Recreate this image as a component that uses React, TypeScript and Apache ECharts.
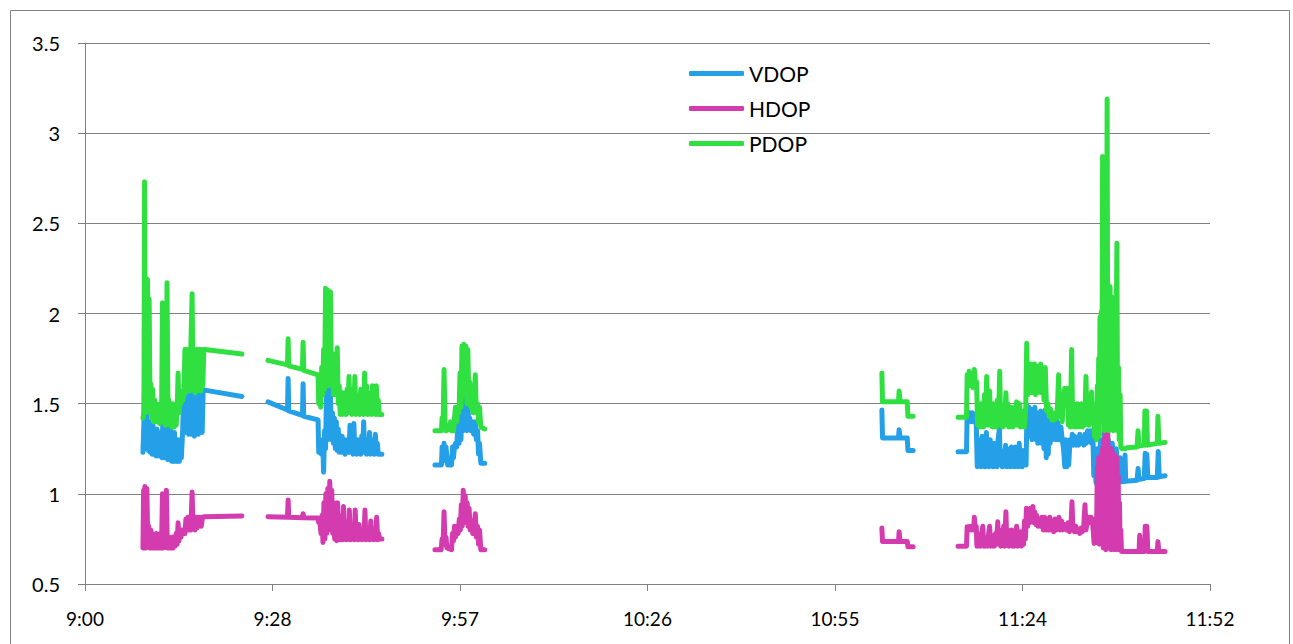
import React, { useEffect, useRef } from "react";
import * as echarts from "echarts";

// x = minutes after 9:00, y = DOP value
const xTickMinutes = 28.8; // 0.02 day
const xMaxMinutes = 172.8;

// ---------- VDOP ----------
const vdop1: number[][] = [
  [8.9,1.23],[9.05,1.40],[9.15,1.62],[9.3,1.25],[9.45,1.45],[9.6,1.38],[9.75,1.24],[9.85,1.40],[10.0,1.23],[10.15,1.35],[10.3,1.22],[10.45,1.38],[10.6,1.22],[10.75,1.32],[10.9,1.21],[11.05,1.36],[11.2,1.21],[11.35,1.30],[11.5,1.21],[11.65,1.34],[11.8,1.20],[11.95,1.40],[12.1,1.20],[12.25,1.30],[12.4,1.20],[12.55,1.38],[12.7,1.19],[12.85,1.32],[13.0,1.19],[13.15,1.36],[13.3,1.18],[13.45,1.30],[13.6,1.18],[13.75,1.34],[13.9,1.18],[14.05,1.25],[14.2,1.18],[14.35,1.30],[14.5,1.18],[14.65,1.28],[14.8,1.20],[15.0,1.35],[15.15,1.55],[15.3,1.34],[15.45,1.57],[15.6,1.34],[15.75,1.56],[15.9,1.33],[16.05,1.57],[16.2,1.33],[16.35,1.57],[16.5,1.33],[16.65,1.57],[16.8,1.32],[16.95,1.57],[17.1,1.33],[17.25,1.58],[17.4,1.33],[17.55,1.57],[17.7,1.34],[17.85,1.575],[18.0,1.34],[18.15,1.575],[18.4,1.575],[24.1,1.54]
];
const vdop2: number[][] = [
  [28.1,1.51],[31.1,1.465],[31.2,1.64],[31.3,1.46],[33.4,1.435],[33.5,1.61],[33.6,1.43],[35.8,1.41],[35.9,1.23],[36.1,1.27],[36.3,1.22],[36.5,1.30],[36.65,1.12],[36.8,1.35],[36.95,1.25],[37.1,1.58],[37.25,1.30],[37.4,1.60],[37.55,1.35],[37.7,1.55],[37.85,1.30],[38.0,1.45],[38.15,1.28],[38.3,1.42],[38.45,1.25],[38.6,1.40],[38.75,1.24],[38.9,1.36],[39.05,1.23],
  [39.2,1.30],[39.35,1.23],[39.5,1.32],[39.65,1.23],[39.8,1.28],[39.95,1.22],[40.1,1.30],[40.25,1.23],[40.4,1.27],[40.55,1.23],[40.7,1.38],[40.85,1.23],[41.0,1.30],[41.15,1.22],[41.3,1.39],[41.45,1.23],[41.6,1.28],[41.75,1.22],[41.9,1.30],[42.05,1.23],[42.2,1.27],[42.35,1.22],[42.5,1.32],[42.65,1.23],[42.8,1.40],[42.95,1.23],[43.1,1.30],[43.25,1.22],[43.4,1.28],[43.55,1.23],[43.7,1.34],[43.85,1.22],[44.0,1.30],[44.15,1.23],[44.3,1.27],[44.45,1.22],[44.6,1.33],[44.75,1.23],[44.9,1.28],[45.05,1.22],[45.6,1.22]
];
const vdop3: number[][] = [
  [53.75,1.16],[54.75,1.16],[54.85,1.26],[55.0,1.18],[55.15,1.28],[55.3,1.20],[55.45,1.26],[55.7,1.16],[56.3,1.16],[56.45,1.26],[56.6,1.20],[56.75,1.26],[56.9,1.28],[57.1,1.26],[57.3,1.40],[57.45,1.28],[57.6,1.45],[57.75,1.30],[57.9,1.52],[58.05,1.35],[58.2,1.55],[58.35,1.40],[58.5,1.52],[58.65,1.35],[58.8,1.50],[58.95,1.38],[59.1,1.42],[59.3,1.35],[59.5,1.40],[59.7,1.33],[59.95,1.40],[60.1,1.30],[60.3,1.35],[60.45,1.22],[60.6,1.28],[60.8,1.17],[61.4,1.17]
];
const vdop4: number[][] = [
  [122.4,1.465],[122.5,1.31],[124.95,1.31],[125.05,1.355],[125.2,1.31],[126.3,1.31],[126.4,1.24],[127.2,1.24]
];
const vdop5: number[][] = [
  [134.1,1.234],[135.4,1.234],[135.5,1.455],[135.7,1.40],[135.9,1.45],[136.1,1.40],[136.3,1.45],[136.5,1.40],[136.7,1.44],[136.9,1.38],
  [137.05,1.15],[137.2,1.30],[137.35,1.16],[137.5,1.25],[137.65,1.15],[137.8,1.32],[137.95,1.16],[138.1,1.22],[138.25,1.15],[138.45,1.34],[138.6,1.16],[138.75,1.25],[138.9,1.15],[139.05,1.30],[139.2,1.16],[139.35,1.22],[139.5,1.15],[139.65,1.28],[139.8,1.16],[139.95,1.20],[140.1,1.15],[140.25,1.30],[140.45,1.36],[140.6,1.16],[140.75,1.24],[140.9,1.15],[141.05,1.22],[141.2,1.16],[141.4,1.27],[141.55,1.15],[141.7,1.25],[141.85,1.16],[142.0,1.22],[142.15,1.15],[142.3,1.26],[142.45,1.16],[142.6,1.20],[142.75,1.15],[142.9,1.26],[143.05,1.16],[143.2,1.22],[143.35,1.15],[143.5,1.28],[143.65,1.16],[143.8,1.20],[143.95,1.15],[144.1,1.24],[144.25,1.16],[144.4,1.20],[144.55,1.16],[144.7,1.49],
  [144.85,1.40],[145.0,1.48],[145.15,1.32],[145.3,1.47],[145.45,1.30],[145.6,1.46],[145.75,1.35],[145.9,1.48],[146.05,1.30],[146.2,1.42],[146.35,1.28],[146.5,1.45],[146.65,1.30],[146.8,1.46],[146.95,1.28],[147.1,1.40],[147.3,1.25],[147.5,1.465],[147.65,1.20],[147.8,1.45],[147.95,1.22],[148.1,1.40],[148.25,1.28],[148.4,1.43],[148.55,1.30],[148.7,1.42],[148.85,1.32],[149.0,1.43],[149.15,1.30],[149.35,1.40],[149.55,1.37],[149.7,1.30],[149.9,1.37],[150.1,1.30],
  [150.3,1.25],[150.5,1.15],[150.65,1.30],[150.8,1.15],[150.95,1.28],[151.1,1.16],[151.3,1.30],[151.5,1.27],[151.65,1.33],[151.8,1.27],[152.0,1.32],[152.2,1.27],[152.4,1.30],[152.6,1.27],[152.8,1.33],[153.0,1.28],[153.2,1.31],[153.4,1.27],[153.6,1.33],[153.8,1.28],[154.0,1.35],[154.2,1.29],[154.4,1.35],[154.6,1.28],[154.8,1.35],[154.95,1.10],[155.1,1.20],[155.3,1.06],
  [155.5,1.25],[155.7,1.10],[156.0,1.30],[156.3,1.15],[156.6,1.35],[156.9,1.10],[157.2,1.30],[157.5,1.10],[157.8,1.28],[158.1,1.08],[158.4,1.25],[158.7,1.07],[159.0,1.20],[159.15,1.067],
  [159.65,1.068],[159.75,1.215],[159.85,1.07],[161.6,1.075],[161.75,1.14],[161.9,1.08],[162.7,1.085],[162.85,1.225],[163.0,1.09],[163.1,1.22],[163.25,1.09],[164.7,1.09],[164.85,1.235],[165.0,1.095],[165.9,1.10]
];

// ---------- HDOP ----------
const hdop1: number[][] = [
  [8.9,0.70],[9.0,1.02],[9.1,0.70],[9.2,1.04],[9.35,0.70],[9.5,1.03],[9.65,0.72],[9.8,0.82],[9.95,0.70],[10.1,0.80],[10.25,0.70],[10.4,0.78],[10.55,0.70],[10.7,0.76],[10.85,0.70],[11.0,0.78],[11.15,0.70],[11.3,0.77],[11.45,0.70],[11.6,0.78],[11.75,0.70],[11.9,1.00],[12.05,0.70],[12.2,0.80],[12.35,0.71],[12.5,1.02],[12.65,0.70],[12.8,0.76],[12.95,0.70],[13.1,0.75],[13.25,0.70],[13.4,0.76],[13.55,0.70],[13.7,0.74],[13.85,0.71],[14.0,0.78],[14.15,0.72],[14.3,0.84],[14.45,0.74],[14.6,0.80],[14.75,0.76],[14.9,0.80],[15.05,0.78],[15.2,0.80],[15.35,0.78],[15.5,0.86],[15.65,0.80],[15.8,0.87],[15.95,0.80],[16.1,0.86],[16.25,0.80],[16.45,1.01],[16.6,0.82],[16.75,0.87],[16.9,0.80],[17.05,0.87],[17.2,0.81],[17.35,0.87],[17.5,0.82],[17.65,0.87],[17.85,0.82],[18.05,0.87],[18.25,0.873],[24.1,0.877]
];
const hdop2: number[][] = [
  [28.1,0.873],[31.1,0.87],[31.2,0.966],[31.3,0.87],[33.4,0.868],[33.5,0.89],[33.6,0.867],[35.8,0.866],[35.9,0.84],[36.1,0.84],[36.25,0.78],[36.4,0.88],[36.55,0.73],[36.7,0.95],[36.85,0.75],[37.0,1.00],[37.15,0.78],[37.3,1.03],[37.45,0.80],[37.6,1.07],[37.75,0.82],[37.9,1.02],[38.05,0.78],[38.2,0.95],[38.35,0.75],[38.5,0.90],[38.65,0.74],[38.8,0.95],[38.95,0.75],[39.1,0.88],[39.25,0.745],
  [39.4,0.82],[39.55,0.745],[39.7,0.93],[39.85,0.75],[40.0,0.85],[40.15,0.745],[40.3,0.80],[40.45,0.75],[40.6,0.91],[40.75,0.745],[40.9,0.82],[41.05,0.75],[41.2,0.78],[41.35,0.745],[41.5,0.91],[41.65,0.75],[41.8,0.80],[41.95,0.745],[42.1,0.83],[42.25,0.75],[42.4,0.78],[42.55,0.745],[42.7,0.80],[42.85,0.75],[43.0,0.91],[43.15,0.745],[43.3,0.80],[43.45,0.75],[43.6,0.78],[43.75,0.745],[43.9,0.85],[44.05,0.75],[44.2,0.80],[44.35,0.745],[44.5,0.78],[44.65,0.75],[44.8,0.87],[44.95,0.745],[45.1,0.78],[45.25,0.75],[45.6,0.75]
];
const hdop3: number[][] = [
  [53.75,0.69],[54.7,0.69],[54.85,0.75],[55.0,0.72],[55.15,0.90],[55.3,0.72],[55.45,0.76],[55.6,0.70],[56.3,0.69],[56.45,0.78],[56.6,0.74],[56.75,0.82],[56.9,0.76],[57.1,0.82],[57.3,0.78],[57.5,0.86],[57.65,0.80],[57.8,0.94],[57.95,0.82],[58.1,1.02],[58.25,0.85],[58.4,0.99],[58.55,0.84],[58.7,0.95],[58.85,0.82],[59.0,0.92],[59.15,0.80],[59.35,0.85],[59.55,0.78],[59.75,0.82],[59.95,0.89],[60.1,0.76],[60.3,0.82],[60.45,0.72],[60.6,0.80],[60.8,0.69],[61.4,0.69]
];
const hdop4: number[][] = [
  [122.4,0.81],[122.5,0.735],[124.95,0.735],[125.05,0.79],[125.2,0.735],[126.3,0.735],[126.4,0.707],[127.2,0.707]
];
const hdop5: number[][] = [
  [134.1,0.71],[135.4,0.71],[135.5,0.818],[135.7,0.80],[135.9,0.82],[136.1,0.80],[136.3,0.82],[136.5,0.80],[136.6,0.87],[136.75,0.80],[136.9,0.82],[137.0,0.71],
  [137.15,0.78],[137.3,0.71],[137.45,0.76],[137.6,0.71],[137.75,0.78],[137.9,0.82],[138.05,0.71],[138.2,0.76],[138.35,0.71],[138.5,0.75],[138.65,0.71],[138.8,0.78],[138.95,0.82],[139.1,0.71],[139.25,0.77],[139.4,0.71],[139.55,0.76],[139.7,0.71],[139.85,0.78],[140.0,0.72],[140.2,0.845],[140.35,0.72],[140.5,0.80],[140.65,0.71],[140.8,0.78],[140.95,0.72],[141.1,0.82],[141.25,0.71],[141.45,0.90],[141.6,0.72],[141.75,0.80],[141.9,0.71],[142.05,0.78],[142.2,0.72],[142.35,0.80],[142.5,0.71],[142.65,0.76],[142.8,0.71],[142.95,0.78],[143.1,0.82],[143.25,0.71],[143.4,0.77],[143.55,0.72],[143.7,0.79],[143.85,0.71],[144.0,0.78],[144.15,0.72],[144.3,0.85],[144.45,0.75],[144.6,0.92],
  [144.8,0.82],[144.95,0.90],[145.1,0.84],[145.25,0.92],[145.4,0.85],[145.6,0.93],[145.75,0.84],[145.9,0.90],[146.05,0.83],[146.2,0.88],[146.4,0.82],[146.6,0.86],[146.8,0.82],[147.0,0.87],[147.2,0.80],[147.4,0.87],[147.6,0.80],[147.8,0.86],[148.0,0.80],[148.2,0.87],[148.4,0.80],[148.6,0.85],[148.8,0.79],[149.0,0.86],[149.2,0.80],[149.4,0.85],[149.6,0.87],[149.8,0.80],[150.0,0.85],
  [150.2,0.80],[150.5,0.83],[150.8,0.80],[151.0,0.84],[151.2,0.79],[151.45,0.82],[151.6,0.956],[151.75,0.80],[152.0,0.79],[152.2,0.82],[152.4,0.79],[152.6,0.80],[152.8,0.78],[153.0,0.81],[153.2,0.79],[153.4,0.82],[153.6,0.94],[153.75,0.80],[153.95,0.85],[154.1,0.87],[154.3,0.84],[154.5,0.87],[154.7,0.86],[154.85,0.80],[155.0,0.725],[155.2,0.75],[155.35,0.73],
  [155.5,1.15],[155.6,0.73],[155.7,1.20],[155.8,0.72],[155.9,1.18],[156.0,0.73],[156.1,1.22],[156.2,0.72],[156.3,1.25],[156.4,0.70],[156.5,1.30],[156.6,0.70],[156.7,1.37],[156.8,0.69],[156.9,1.39],[157.0,0.70],[157.1,1.35],[157.2,0.70],[157.3,1.25],[157.4,0.70],[157.5,1.22],[157.6,0.69],[157.7,1.25],[157.8,0.70],[157.9,1.20],[158.0,0.69],[158.1,1.22],[158.2,0.70],[158.3,1.18],[158.4,0.69],[158.5,1.20],[158.6,0.70],[158.7,1.10],[158.8,0.69],[158.9,0.95],[159.0,0.69],[159.1,0.80],[159.2,0.68],
  [159.4,0.68],[161.9,0.68],[162.0,0.77],[162.1,0.68],[162.75,0.68],[162.85,0.82],[163.0,0.70],[163.1,0.82],[163.25,0.68],[164.7,0.68],[164.8,0.735],[164.95,0.68],[165.9,0.68]
];

// ---------- PDOP ----------
const pdop1: number[][] = [
  [8.9,1.42],[9.05,1.45],[9.15,2.73],[9.3,1.45],[9.45,1.62],[9.6,2.19],[9.75,1.50],[9.85,2.08],[10.0,1.45],[10.1,1.61],[10.25,1.42],[10.4,1.58],[10.55,1.40],[10.7,1.52],[10.85,1.40],[11.0,1.50],[11.15,1.40],[11.3,1.46],[11.45,1.39],[11.6,1.50],[11.75,1.40],[11.9,2.06],[12.05,1.40],[12.2,1.45],[12.35,1.38],[12.5,1.55],[12.6,2.17],[12.75,1.40],[12.9,1.52],[13.05,1.38],[13.2,1.48],[13.35,1.37],[13.5,1.50],[13.65,1.37],[13.8,1.42],[14.0,1.38],[14.15,1.45],[14.3,1.67],[14.45,1.45],[14.6,1.56],[14.75,1.50],[14.9,1.57],[15.05,1.52],[15.2,1.57],[15.35,1.80],[15.5,1.56],[15.65,1.80],[15.8,1.58],[15.95,1.80],[16.1,1.57],[16.25,1.80],[16.45,2.11],[16.6,1.58],[16.75,1.80],[16.9,1.56],[17.05,1.80],[17.2,1.57],[17.35,1.80],[17.5,1.58],[17.65,1.80],[17.8,1.57],[17.95,1.80],[18.1,1.60],[18.25,1.80],[18.4,1.80],[24.1,1.775]
];
const pdop2: number[][] = [
  [28.1,1.74],[31.1,1.715],[31.2,1.86],[31.3,1.71],[33.4,1.69],[33.5,1.84],[33.6,1.685],[35.8,1.66],[35.9,1.50],[36.05,1.62],[36.2,1.48],[36.35,1.70],[36.5,1.55],[36.65,1.80],[36.8,1.58],[36.95,2.14],[37.1,1.62],[37.25,2.13],[37.4,1.60],[37.55,1.80],[37.7,2.12],[37.85,1.62],[38.0,1.78],[38.15,1.55],[38.3,1.75],[38.45,1.55],[38.6,1.62],[38.75,1.81],[38.9,1.50],[39.05,1.60],[39.2,1.44],
  [39.35,1.55],[39.5,1.44],[39.65,1.56],[39.8,1.45],[39.95,1.52],[40.1,1.44],[40.25,1.58],[40.4,1.45],[40.55,1.65],[40.7,1.46],[40.85,1.58],[41.0,1.44],[41.15,1.56],[41.3,1.45],[41.45,1.65],[41.6,1.44],[41.75,1.55],[41.9,1.45],[42.05,1.52],[42.2,1.44],[42.35,1.58],[42.5,1.45],[42.65,1.55],[42.8,1.44],[42.95,1.67],[43.1,1.45],[43.25,1.60],[43.4,1.44],[43.55,1.52],[43.7,1.45],[43.85,1.56],[44.0,1.44],[44.15,1.60],[44.3,1.45],[44.45,1.55],[44.6,1.44],[44.75,1.60],[44.9,1.44],[45.05,1.52],[45.2,1.44],[45.6,1.44]
];
const pdop3: number[][] = [
  [53.75,1.35],[54.75,1.35],[54.85,1.42],[55.0,1.38],[55.15,1.69],[55.3,1.40],[55.45,1.35],[56.0,1.36],[56.15,1.40],[56.3,1.35],[56.6,1.35],[56.75,1.42],[56.9,1.48],[57.1,1.40],[57.25,1.48],[57.45,1.45],[57.6,1.67],[57.75,1.48],[57.9,1.82],[58.05,1.55],[58.2,1.83],[58.35,1.55],[58.5,1.82],[58.65,1.50],[58.8,1.80],[58.95,1.55],[59.1,1.62],[59.25,1.48],[59.45,1.50],[59.6,1.45],[59.75,1.50],[59.95,1.66],[60.1,1.45],[60.3,1.50],[60.45,1.40],[60.6,1.48],[60.8,1.37],[61.4,1.36]
];
const pdop4: number[][] = [
  [122.4,1.67],[122.5,1.51],[124.95,1.51],[125.05,1.57],[125.2,1.51],[126.3,1.51],[126.4,1.43],[127.2,1.43]
];
const pdop5: number[][] = [
  [134.1,1.425],[135.4,1.425],[135.5,1.66],[135.65,1.60],[135.8,1.68],[136.0,1.60],[136.2,1.66],[136.4,1.59],[136.6,1.69],[136.8,1.60],[136.95,1.62],
  [137.1,1.38],[137.25,1.45],[137.4,1.37],[137.55,1.50],[137.7,1.38],[137.85,1.45],[138.0,1.37],[138.15,1.55],[138.3,1.40],[138.5,1.65],[138.65,1.38],[138.8,1.48],[138.95,1.57],[139.1,1.38],[139.25,1.45],[139.4,1.37],[139.55,1.50],[139.7,1.38],[139.85,1.46],[140.0,1.37],[140.15,1.52],[140.3,1.40],[140.5,1.68],[140.65,1.38],[140.8,1.45],[140.95,1.37],[141.1,1.48],[141.25,1.38],[141.45,1.56],[141.6,1.40],[141.75,1.50],[141.9,1.37],[142.05,1.45],[142.2,1.38],[142.35,1.48],[142.5,1.37],[142.65,1.44],[142.8,1.38],[142.95,1.46],[143.1,1.51],[143.25,1.38],[143.4,1.45],[143.55,1.50],[143.7,1.37],[143.85,1.44],[144.0,1.38],[144.15,1.46],[144.3,1.37],[144.5,1.48],[144.65,1.835],[144.8,1.55],
  [144.95,1.70],[145.1,1.58],[145.25,1.72],[145.4,1.56],[145.55,1.70],[145.7,1.60],[145.85,1.72],[146.0,1.55],[146.15,1.66],[146.3,1.56],[146.5,1.71],[146.65,1.58],[146.8,1.72],[146.95,1.56],[147.1,1.68],[147.3,1.52],[147.5,1.70],[147.7,1.46],[147.9,1.50],[148.1,1.43],[148.3,1.47],[148.5,1.41],[148.7,1.45],[148.9,1.41],[149.1,1.44],[149.3,1.42],[149.55,1.66],[149.7,1.45],[149.9,1.50],[150.1,1.40],
  [150.3,1.55],[150.5,1.585],[150.7,1.50],[150.9,1.585],[151.05,1.38],[151.2,1.48],[151.35,1.37],[151.55,1.80],[151.7,1.40],[151.85,1.50],[152.0,1.37],[152.15,1.48],[152.3,1.38],[152.45,1.50],[152.6,1.37],[152.75,1.47],[152.9,1.38],[153.05,1.50],[153.2,1.37],[153.4,1.45],[153.55,1.38],[153.75,1.65],[153.9,1.40],[154.05,1.48],[154.2,1.38],[154.4,1.50],[154.6,1.565],[154.75,1.40],[154.9,1.45],[155.05,1.32],[155.2,1.45],[155.35,1.30],
  [155.5,1.60],[155.6,1.35],[155.7,1.75],[155.8,1.32],[155.9,1.98],[156.0,1.40],[156.1,2.01],[156.2,1.45],[156.3,2.87],[156.4,1.50],[156.5,1.95],[156.6,1.35],[156.7,2.00],[156.8,1.40],[156.9,1.80],[157.0,3.19],[157.1,1.45],[157.2,2.00],[157.3,1.35],[157.45,2.15],[157.55,1.40],[157.7,1.85],[157.85,2.09],[157.95,1.35],[158.1,1.75],[158.2,1.40],[158.35,1.70],[158.5,2.39],[158.6,1.35],[158.75,1.70],[158.85,1.30],[159.0,1.55],[159.1,1.26],[159.3,1.25],
  [159.75,1.25],[160.0,1.255],[161.6,1.26],[161.75,1.35],[161.9,1.265],[162.7,1.27],[162.8,1.46],[162.95,1.27],[163.05,1.46],[163.2,1.27],[164.7,1.28],[164.8,1.43],[164.95,1.28],[165.9,1.285]
];

const seriesNames = ["VDOP", "HDOP", "PDOP"];
const seriesColors = ["#24A0E8", "#D43BAF", "#30E040"];
const seriesSegments: number[][][][] = [
  [vdop1, vdop2, vdop3, vdop4, vdop5],
  [hdop1, hdop2, hdop3, hdop4, hdop5],
  [pdop1, pdop2, pdop3, pdop4, pdop5],
];

function joinSegments(segs: number[][][]): (number | string)[][] {
  const out: (number | string)[][] = [];
  segs.forEach((s, i) => {
    if (i > 0) {
      const prev = segs[i - 1];
      out.push([(prev[prev.length - 1][0] + s[0][0]) / 2, "-"]);
    }
    s.forEach((p) => out.push([p[0], p[1]]));
  });
  return out;
}

function timeLabel(v: number): string {
  const total = Math.floor(v + 1e-6);
  const h = 9 + Math.floor(total / 60);
  const m = total % 60;
  return `${h}:${m < 10 ? "0" + m : m}`;
}

const FONT = "Lato, 'Noto Sans', sans-serif";
const GRAY = "#808080";

export default function App() {
  const ref = useRef<HTMLDivElement>(null);
  useEffect(() => {
    if (!ref.current) return;
    const chart = echarts.init(ref.current, undefined, { renderer: "svg" });
    chart.setOption({
      animation: false,
      backgroundColor: "#ffffff",
      grid: { left: 85, right: 83, top: 43, bottom: 60, containLabel: false },
      graphic: [
        {
          type: "rect",
          shape: { x: 10.5, y: 10.5, width: 1279, height: 660 },
          style: { fill: "none", stroke: GRAY, lineWidth: 1 },
          silent: true,
          z: -1,
        },
      ],
      legend: {
        data: seriesNames,
        orient: "vertical",
        left: 689,
        top: 63,
        padding: 0,
        icon: "roundRect",
        itemWidth: 55,
        itemHeight: 5,
        itemGap: 14,
        textStyle: { fontFamily: FONT, fontSize: 21, color: "#000", lineHeight: 20 },
      },
      xAxis: {
        type: "value",
        min: 0,
        max: xMaxMinutes,
        interval: xTickMinutes,
        splitLine: { show: false },
        axisLine: { show: true, lineStyle: { color: GRAY, width: 1 } },
        axisTick: { show: true, length: 7, lineStyle: { color: GRAY } },
        axisLabel: {
          formatter: timeLabel,
          fontFamily: FONT,
          fontSize: 19,
          color: "#000",
          margin: 25,
          showMaxLabel: true,
          showMinLabel: true,
        },
      },
      yAxis: {
        type: "value",
        min: 0.5,
        max: 3.5,
        interval: 0.5,
        splitLine: { show: true, lineStyle: { color: GRAY, width: 1 } },
        axisLine: { show: true, lineStyle: { color: GRAY, width: 1 } },
        axisTick: { show: true, length: 7, lineStyle: { color: GRAY } },
        axisLabel: { fontFamily: FONT, fontSize: 20, color: "#000", margin: 25 },
      },
      series: seriesNames.map((name, i) => ({
        name,
        type: "line",
        data: joinSegments(seriesSegments[i]),
        showSymbol: false,
        symbol: "none",
        connectNulls: false,
        color: seriesColors[i],
        lineStyle: { width: 5, color: seriesColors[i], cap: "round", join: "round" },
        emphasis: { disabled: true },
      })),
    });
    return () => chart.dispose();
  }, []);
  return (
    <div
      ref={ref}
      style={{ position: "fixed", left: 0, top: 0, width: 1293, height: 644, background: "#fff" }}
    />
  );
}
